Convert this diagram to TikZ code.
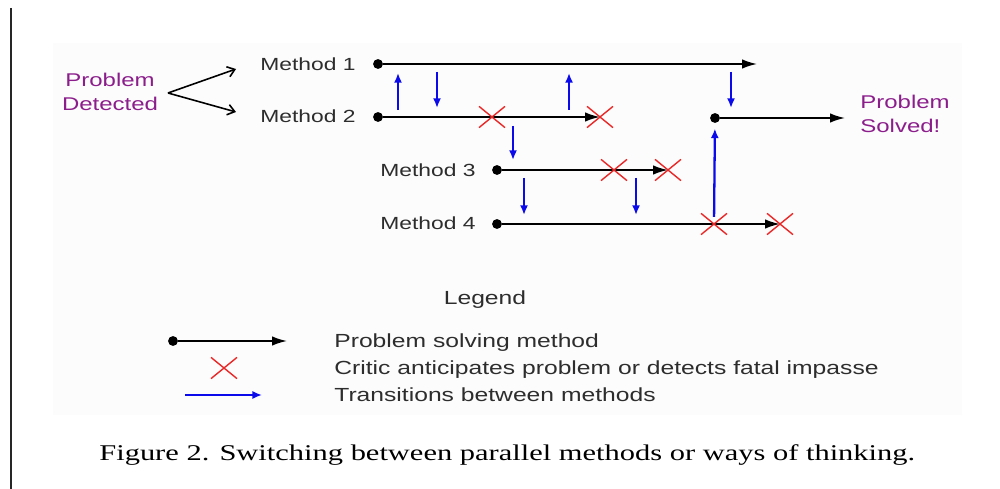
\documentclass[tikz,border=0pt]{standalone}
\usepackage{fontspec}
\newfontfamily\diagfont{Liberation Sans}[FakeStretch=1.3]
\newfontfamily\capfont{Liberation Serif}[FakeStretch=1.355]
\usetikzlibrary{arrows.meta,shapes.misc}
\definecolor{notepurple}{RGB}{140,30,140}
\definecolor{criticred}{RGB}{235,40,40}
\definecolor{switchblue}{RGB}{10,10,235}
\definecolor{labelgray}{RGB}{45,45,45}
\tikzset{
  methodlabel/.style={anchor=base west,inner sep=0pt,text=labelgray,font=\diagfont\fontsize{10}{12}\selectfont},
  legendtext/.style={anchor=base west,inner sep=0pt,text=labelgray,font=\diagfont\fontsize{10.8}{13}\selectfont},
  notetext/.style={inner sep=0pt,text=notepurple,font=\diagfont\fontsize{10.5}{13.4}\selectfont},
  startdot/.style={circle,fill=black,inner sep=0pt,minimum size=5.6pt},
  critic/.style={cross out,draw=criticred,line width=0.8pt,inner sep=0pt,minimum width=14pt,minimum height=11.3pt},
  track/.style={draw,line width=1pt,-{Latex[length=8.5pt,width=5.4pt]}},
  switch/.style={draw=switchblue,line width=1.3pt,-{Latex[length=5.5pt,width=4.6pt]}}
}
\begin{document}
\begin{tikzpicture}[x=0.02cm,y=-0.02cm]
\useasboundingbox (0,0) rectangle (1000,489);
\fill[black!1] (53,43) rectangle (962,415);
\draw[line width=1.7pt,black!85] (11,8) -- (11,489);

\node[notetext,align=center] (detected) at (110,92) {Problem\\Detected};
\coordinate (fork) at (168,93);
\coordinate (up) at (236,69);
\coordinate (down) at (236,112);

\node[methodlabel] (m1) at (260,71) {Method 1};
\node[methodlabel] (m2) at (260,123) {Method 2};
\node[methodlabel] (m3) at (380,177) {Method 3};
\node[methodlabel] (m4) at (380,230) {Method 4};

\node[startdot] (s1) at (378,64) {};
\node[startdot] (s2) at (378,117) {};
\node[startdot] (s3) at (497,170) {};
\node[startdot] (s4) at (497,224) {};
\node[startdot] (s5) at (715,118) {};

\coordinate (e1) at (757,64);
\coordinate (e2) at (600,117);
\coordinate (e3) at (668,170);
\coordinate (e4) at (780,224);
\coordinate (e5) at (845,118);

\node[notetext,align=left,anchor=west] (solved) at (860,114) {Problem\\Solved!};

\path[draw,line width=0.9pt,-{Straight Barb[length=4pt,width=6pt]}] (fork) -- (up);
\path[draw,line width=0.9pt,-{Straight Barb[length=4pt,width=6pt]}] (fork) -- (down);

\foreach \i in {1,...,5} \path[track] (s\i) -- (e\i);

\foreach \n/\x/\y in {c2a/492/117,c3a/614/170,c4a/714/224} \node[critic] (\n) at (\x,\y) {};
\foreach \n/\e in {c2b/e2,c3b/e3,c4b/e4} \node[critic] (\n) at (\e) {};

\foreach \i/\x/\a/\b in {1/398/110/73,2/437/72/108,3/569/110/73,4/731/72/108,5/513/126/160,6/524/178/215,7/636/178/215} {
  \coordinate (tail\i) at (\x,\a);
  \coordinate (head\i) at (\x,\b);
  \path[switch] (tail\i) -- (head\i);
}
\path[switch,shorten <=4pt,shorten >=3pt] (c4a.center) -- (s5);

\node[legendtext,anchor=base] (legend) at (485,305) {Legend};
\node[startdot] (ls) at (173,341) {};
\coordinate (le) at (287,341);
\path[track] (ls) -- (le);
\node[legendtext] (lt1) at (334,347) {Problem solving method};
\node[critic] (lc) at (224,368) {};
\node[legendtext] (lt2) at (334,374) {Critic anticipates problem or detects fatal impasse};
\coordinate (lb1) at (185,395);
\coordinate (lb2) at (262,395);
\path[switch,line width=1pt] (lb1) -- (lb2);
\node[legendtext] (lt3) at (334,401) {Transitions between methods};

\node[anchor=base west,inner sep=0pt,font=\capfont\fontsize{12.8}{15}\selectfont] (caption) at (99,460) {Figure 2. Switching between parallel methods or ways of thinking.};
\end{tikzpicture}
\end{document}
